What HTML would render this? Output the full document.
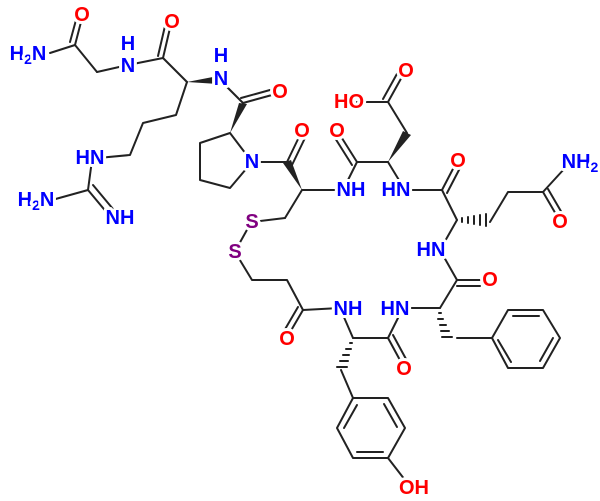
<!DOCTYPE html>
<html><head><meta charset="utf-8"><style>
html,body{margin:0;padding:0;background:#fff}
svg{display:block}
text{font-family:"Liberation Sans",sans-serif;font-weight:bold;font-size:20px;dominant-baseline:central;text-anchor:middle;paint-order:stroke;stroke:#fff;stroke-width:6px;stroke-linejoin:round}
.b{fill:#0000ff}.r{fill:#ff0000}.s{fill:#800080}
tspan.sub{font-size:14px}
line,polyline,polygon{stroke:#222;stroke-width:2;fill:none;stroke-linecap:round;stroke-linejoin:round}
.w{fill:#222;stroke:none}
</style></head><body>
<svg width="600" height="501" viewBox="0 0 600 501" xmlns="http://www.w3.org/2000/svg">
<g>
<line x1="50" y1="53" x2="75" y2="45"/>
<line x1="75" y1="45" x2="81" y2="22"/><line x1="70" y1="42" x2="76" y2="20"/>
<line x1="75" y1="45" x2="97" y2="72"/>
<line x1="97" y1="72" x2="128" y2="65"/>
<line x1="128" y1="65" x2="163" y2="58"/>
<line x1="163" y1="58" x2="170" y2="28"/><line x1="158" y1="56" x2="165" y2="26"/>
<line x1="163" y1="58" x2="187" y2="82"/>
<polygon class="w" points="187,82 218,76 218,84"/>
<polyline points="187,82 176,115 143,123 130,155 98,158"/>
<line x1="92" y1="160" x2="88" y2="190"/>
<line x1="88" y1="190" x2="52" y2="200"/>
<line x1="88" y1="190" x2="108" y2="214"/><line x1="93" y1="185" x2="113" y2="209"/>
<line x1="220" y1="80" x2="243" y2="103"/>
<line x1="243" y1="103" x2="272" y2="95"/><line x1="241" y1="98" x2="270" y2="90"/>
<polygon class="w" points="230,133 239,103 247,104"/>
<polyline points="230,133 252,162 230,188 200,180 200,143 230,133"/>
<line x1="252" y1="162" x2="287" y2="162"/>
<line x1="287" y1="162" x2="300" y2="135"/><line x1="292" y1="165" x2="305" y2="138"/>
<polygon class="w" points="302,190 283,163 291,160"/>
<line x1="302" y1="190" x2="343" y2="190"/>
<line x1="302" y1="190" x2="285" y2="218"/>
<line x1="285" y1="218" x2="252" y2="222"/>
<line x1="248" y1="228" x2="238" y2="246"/>
<polyline points="235,252 252,280 287,280 303,310"/>
<line x1="303" y1="310" x2="340" y2="308"/>
<line x1="303" y1="310" x2="289" y2="334"/><line x1="298" y1="307" x2="284" y2="331"/>
<line x1="343" y1="190" x2="357" y2="162"/>
<line x1="357" y1="162" x2="340" y2="135"/><line x1="352" y1="165" x2="335" y2="138"/>
<line x1="357" y1="162" x2="388" y2="162"/>
<polygon class="w" points="388,162 403,131 411,135"/>
<line x1="407" y1="133" x2="388" y2="102"/>
<line x1="388" y1="102" x2="357" y2="102"/>
<line x1="388" y1="102" x2="403" y2="75"/><line x1="383" y1="99" x2="398" y2="72"/>
<line x1="388" y1="162" x2="405" y2="190"/>
<line x1="405" y1="190" x2="442" y2="190"/>
<line x1="442" y1="190" x2="455" y2="165"/><line x1="447" y1="193" x2="460" y2="168"/>
<line x1="442" y1="190" x2="457" y2="220"/>
<g stroke="#222" stroke-width="1.6">
<line x1="462" y1="218" x2="462" y2="222"/><line x1="468" y1="217" x2="468" y2="223"/><line x1="474" y1="216" x2="474" y2="224"/><line x1="480" y1="215" x2="480" y2="225"/><line x1="486" y1="214" x2="486" y2="226"/>
</g>
<polyline points="490,222 508,192 543,192"/>
<line x1="543" y1="192" x2="565" y2="168"/>
<line x1="543" y1="192" x2="557" y2="216"/><line x1="548" y1="189" x2="562" y2="213"/>
<line x1="457" y1="220" x2="440" y2="250"/>
<line x1="440" y1="250" x2="457" y2="280"/>
<line x1="457" y1="280" x2="480" y2="280"/><line x1="457" y1="286" x2="480" y2="286"/>
<line x1="457" y1="280" x2="440" y2="308"/>
<line x1="440" y1="308" x2="403" y2="308"/>
<g stroke="#222" stroke-width="1.6">
<line x1="441" y1="313" x2="439" y2="313"/><line x1="443" y1="319" x2="438" y2="319"/><line x1="446" y1="325" x2="440" y2="325"/><line x1="449" y1="331" x2="441" y2="331"/><line x1="452" y1="337" x2="442" y2="337"/>
</g>
<line x1="457" y1="338" x2="492" y2="338"/>
<polygon points="492,338 508,310 543,310 560,338 543,368 508,368"/>
<line x1="513" y1="316" x2="539" y2="316"/><line x1="553" y1="338" x2="540" y2="361"/><line x1="511" y1="362" x2="498" y2="340"/>
<line x1="403" y1="308" x2="388" y2="338"/>
<line x1="388" y1="338" x2="353" y2="338"/>
<line x1="388" y1="338" x2="401" y2="362"/><line x1="393" y1="335" x2="406" y2="359"/>
<line x1="353" y1="338" x2="340" y2="308"/>
<g stroke="#222" stroke-width="1.6">
<line x1="350" y1="343" x2="352" y2="343"/><line x1="346" y1="349" x2="351" y2="349"/><line x1="343" y1="355" x2="349" y2="355"/><line x1="340" y1="361" x2="348" y2="361"/><line x1="337" y1="367" x2="347" y2="367"/>
</g>
<line x1="341" y1="370" x2="353" y2="398"/>
<polygon points="353,398 388,398 405,428 388,458 353,458 337,428"/>
<line x1="384" y1="404" x2="397" y2="427"/><line x1="383" y1="452" x2="357" y2="452"/><line x1="344" y1="428" x2="357" y2="405"/>
<line x1="388" y1="458" x2="405" y2="480"/>
</g>
<text class="r" x="82" y="15">O</text>
<text class="b" x="28" y="54">H<tspan class="sub" dy="5">2</tspan><tspan dy="-5">N</tspan></text>
<text class="b" x="128" y="66">N</text><text class="b" x="128" y="44">H</text>
<text class="r" x="172" y="22">O</text>
<text class="b" x="221" y="79">N</text><text class="b" x="221" y="56">H</text>
<text class="r" x="280" y="92">O</text>
<text class="b" x="90" y="158">HN</text>
<text class="b" x="36" y="200">H<tspan class="sub" dy="5">2</tspan><tspan dy="-5">N</tspan></text>
<text class="b" x="120" y="218">NH</text>
<text class="b" x="252" y="162">N</text>
<text class="r" x="302" y="131">O</text>
<text class="b" x="351" y="190">NH</text>
<text class="s" x="252" y="222">S</text>
<text class="s" x="235" y="252">S</text>
<text class="r" x="287" y="339">O</text>
<text class="r" x="337" y="131">O</text>
<text class="r" x="349" y="102">HO</text>
<text class="r" x="406" y="71">O</text>
<text class="b" x="396" y="190">HN</text>
<text class="r" x="458" y="161">O</text>
<text class="b" x="580" y="162">NH<tspan class="sub" dy="5">2</tspan></text>
<text class="r" x="560" y="222">O</text>
<text class="b" x="431" y="250">HN</text>
<text class="r" x="490" y="280">O</text>
<text class="b" x="348" y="309">NH</text>
<text class="b" x="395" y="309">HN</text>
<text class="r" x="404" y="369">O</text>
<text class="r" x="414" y="488">OH</text>
</svg>
</body></html>
